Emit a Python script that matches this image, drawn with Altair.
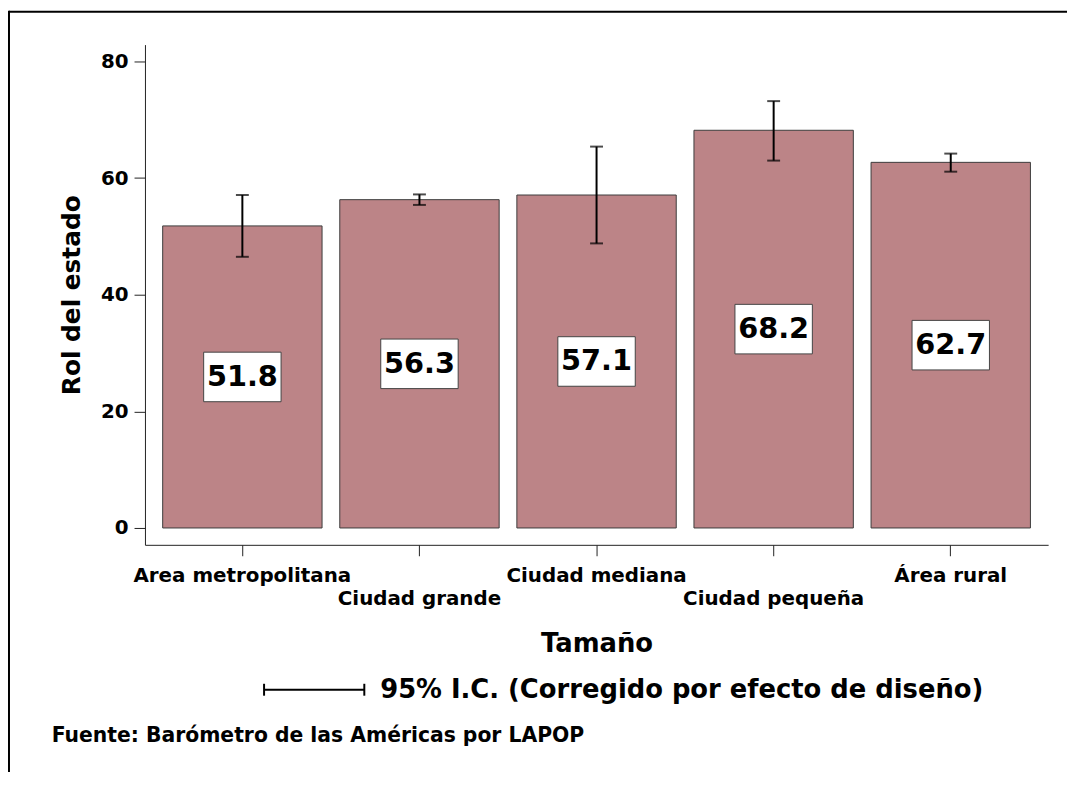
import json
import altair as alt
import pandas as pd

# ---- data ----
categories = ["Area metropolitana", "Ciudad grande", "Ciudad mediana", "Ciudad pequeña", "Área rural"]
values = [51.8, 56.3, 57.1, 68.2, 62.7]
ci_low = [46.5, 55.4, 48.8, 63.0, 61.1]
ci_high = [57.1, 57.2, 65.4, 73.2, 64.2]
y_ticks = [0, 20, 40, 60, 80]
lower_row = ["Ciudad grande", "Ciudad pequeña"]

df = pd.DataFrame({"cat": categories, "val": values, "lo": ci_low, "hi": ci_high})
df["label"] = [f"{v:.1f}" for v in values]

FONT = "DejaVu Sans"
BAR = "#BC8487"
W, H = 910, 504

label_expr = "indexof(%s, datum.value) >= 0 ? ['', datum.label] : datum.label" % json.dumps(
    lower_row, ensure_ascii=False)

x_axis = alt.Axis(
    title="Tamaño", labelAngle=0, labelExpr=label_expr, labelOverlap=False, labelLimit=0,
    labelFont=FONT, labelFontSize=20, labelFontWeight="bold", labelColor="black",
    labelPadding=10, labelLineHeight=23, tickSize=11, tickColor="#222", domainColor="#222",
    tickWidth=1, domainWidth=1,
    titleFont=FONT, titleFontSize=26, titleFontWeight="bold", titleColor="black",
    titleY=107, titleBaseline="alphabetic",
)
y_axis = alt.Axis(
    values=y_ticks, title="Rol del estado", grid=False, tickSize=11, labelPadding=6,
    labelFont=FONT, labelFontSize=20, labelFontWeight="bold", labelColor="black",
    tickColor="#222", domainColor="#222", tickWidth=1, domainWidth=1,
    titleFont=FONT, titleFontSize=25, titleFontWeight="bold", titleColor="black",
    titleX=-66, titleY=H / 2, titleAngle=270, titleAlign="center", titleBaseline="alphabetic",
)
x_scale = alt.Scale(paddingInner=0.1, paddingOuter=0.1)
y_scale = alt.Scale(domain=[-2.89, 82.89], nice=False, zero=False)


def X():
    return alt.X("cat:N", sort=categories, scale=x_scale, axis=x_axis)


def Y(field):
    return alt.Y(field, scale=y_scale, axis=y_axis)


base = alt.Chart(df)

bars = base.mark_bar(color=BAR, stroke="#3c3c3c", strokeWidth=1).encode(
    x=X(), y=Y("val:Q"), y2=alt.datum(0))

err = base.mark_rule(color="black", strokeWidth=2).encode(
    x=X(), y=Y("lo:Q"), y2="hi:Q")
cap_lo = base.mark_tick(color="black", size=13, thickness=2).encode(x=X(), y=Y("lo:Q"))
cap_hi = base.mark_tick(color="black", size=13, thickness=2).encode(x=X(), y=Y("hi:Q"))

box_path = "M-1,-0.64L1,-0.64L1,0.64L-1,0.64Z"
boxes = base.transform_calculate(mid="datum.val / 2").mark_point(
    shape=box_path, size=78 * 78, filled=True, fill="white", stroke="#444",
    strokeWidth=1, opacity=1).encode(x=X(), y=Y("mid:Q"))
texts = base.transform_calculate(mid="datum.val / 2").mark_text(
    font=FONT, fontSize=29, fontWeight="bold", color="black", baseline="middle").encode(
    x=X(), y=Y("mid:Q"), text="label:N")

one = alt.Data(values=[{"k": 1}])

frame_top = alt.Chart(one).mark_rule(color="black", strokeWidth=2).encode(
    x=alt.value(-137), x2=alt.value(960), y=alt.value(-33))
frame_left = alt.Chart(one).mark_rule(color="black", strokeWidth=2).encode(
    x=alt.value(-137), y=alt.value(-34), y2=alt.value(760))

leg_line = alt.Chart(one).mark_rule(color="black", strokeWidth=2).encode(
    x=alt.value(120), x2=alt.value(221), y=alt.value(650))
leg_cap1 = alt.Chart(one).mark_rule(color="black", strokeWidth=2).encode(
    x=alt.value(120), y=alt.value(644), y2=alt.value(656))
leg_cap2 = alt.Chart(one).mark_rule(color="black", strokeWidth=2).encode(
    x=alt.value(221), y=alt.value(644), y2=alt.value(656))
leg_text = alt.Chart(one).mark_text(
    font=FONT, fontSize=26, fontWeight="bold", color="black", align="left",
    baseline="alphabetic").encode(
    x=alt.value(237), y=alt.value(658),
    text=alt.value("95% I.C. (Corregido por efecto de diseño)"))

source = alt.Chart(one).mark_text(
    font=FONT, fontSize=20.5, fontWeight="bold", color="black", align="left",
    baseline="alphabetic").encode(
    x=alt.value(-94), y=alt.value(703),
    text=alt.value("Fuente: Barómetro de las Américas por LAPOP"))

chart = alt.layer(
    bars, err, cap_lo, cap_hi, boxes, texts,
    frame_top, frame_left, leg_line, leg_cap1, leg_cap2, leg_text, source,
).properties(
    width=W, height=H,
    autosize=alt.AutoSizeParams(type="none"),
    padding={"left": 138, "top": 34, "right": 1067 - 138 - W, "bottom": 226},
    background="white",
).configure_view(stroke=None)

chart.save("out.html", embed_options={"renderer": "svg", "actions": False})
